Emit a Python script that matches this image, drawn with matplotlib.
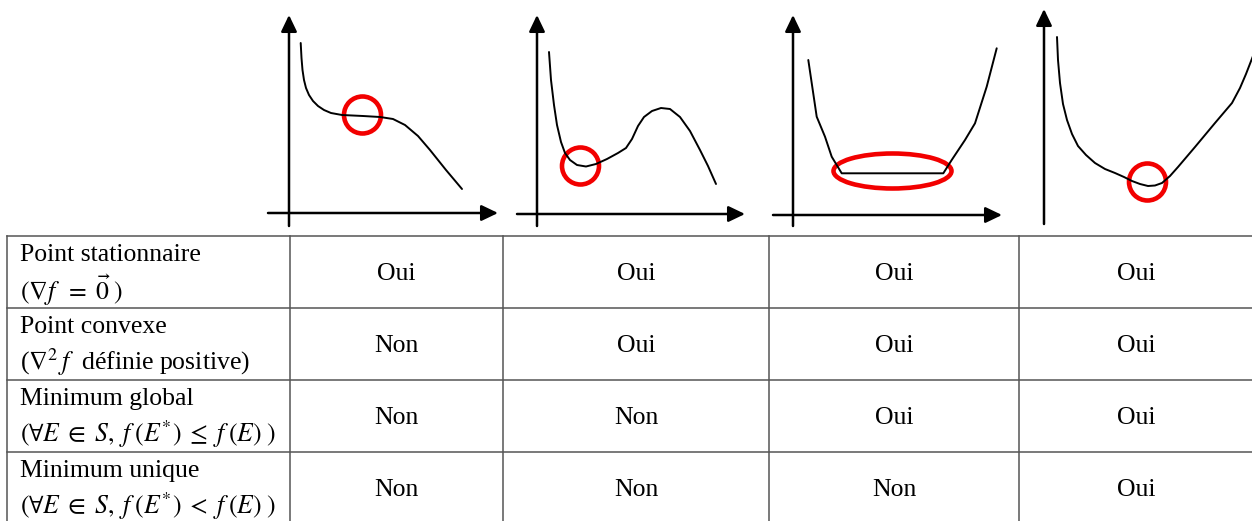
import numpy as np
import matplotlib
matplotlib.use('Agg')
import matplotlib.pyplot as plt
from matplotlib.patches import Ellipse
from matplotlib.patches import ArrowStyle

plt.rcParams['font.family'] = ['Liberation Serif', 'DejaVu Serif']
plt.rcParams['mathtext.fontset'] = 'stix'

W, H = 1252, 521

# %% podaci - skice funkcija (koordinate u pikselima slike)

# osa: (x y-ose, dno y-ose, vrh y-ose, y x-ose, levo x-ose, vrh x-ose)
axes_1 = (289, 226, 15, 213, 268, 498)
axes_2 = (537, 226, 15, 214, 517, 745)
axes_3 = (793, 226, 15, 215, 773, 1002)
axes_4 = (1044, 224, 9, 213, 1023, 1264)

curve_1_x = [300.7, 301.5, 302.5, 304, 306, 309, 313, 318, 324, 331, 342, 363, 380, 393, 405, 418, 430, 446, 462]
curve_1_y = [43, 58, 70, 80, 88, 95, 101, 106, 110, 113, 115, 116, 117, 119, 125, 136, 150, 170, 189]

curve_2_x = [549, 551, 554, 557, 561, 565, 570, 577, 586, 596, 607, 618, 626, 632, 638, 644,
             652, 661, 670, 680, 690, 700, 708, 716]
curve_2_y = [52, 80, 105, 125, 142, 153, 160, 165, 166.5, 164, 159, 153, 148, 139, 126, 117,
             111, 108, 109, 117, 131, 150, 166, 184]

curve_3_x = [808.3, 816.7, 825, 831.7, 841.7, 943.3, 951.7, 965, 975, 986.7, 996.7]
curve_3_y = [60, 116.7, 136.7, 156.7, 173.3, 173.3, 160, 140, 123.3, 86.7, 48.3]

curve_4_x = [1057, 1058, 1060, 1063, 1067, 1072, 1078, 1086, 1095, 1105, 1115, 1124, 1132,
             1140, 1148, 1155, 1162, 1170, 1178, 1195, 1215, 1232, 1240, 1246, 1253]
curve_4_y = [37, 60, 83, 104, 120, 134, 146, 155, 163, 169, 173, 177, 181, 184, 186, 185.5,
             183, 176, 167, 147, 123, 103, 88, 74, 56]

# oznake: (centar x, centar y, sirina, visina)
marks = [(362.5, 115, 37, 37),
         (580.5, 166, 37, 37),
         (892.5, 171, 118, 35),
         (1147.5, 182, 37, 37)]

# %% podaci - tabela

col_edges = [7, 290, 503, 769, 1019, 1254]
row_edges = [236, 308, 380, 452, 524]

row_titles = ['Point stationnaire', 'Point convexe', 'Minimum global', 'Minimum unique']
row_conditions = [r'$(\nabla f\;\;=\;\vec{0}\;)$',
                  r'($\nabla^2\,f$  définie positive)',
                  r'$(\forall E\;\in\;S,\;f\;(E^{*})\;\leq\;f\;(E)\;)$',
                  r'$(\forall E\;\in\;S,\;f\;(E^{*})\;<\;f\;(E)\;)$']

values = [['Oui', 'Oui', 'Oui', 'Oui'],
          ['Non', 'Oui', 'Oui', 'Oui'],
          ['Non', 'Non', 'Oui', 'Oui'],
          ['Non', 'Non', 'Non', 'Oui']]

# %% crtanje

fig = plt.figure(figsize=(W / 100, H / 100), dpi=100)
ax = fig.add_axes([0, 0, 1, 1])
ax.set_xlim(0, W)
ax.set_ylim(H, 0)
ax.axis('off')

head = ArrowStyle('-|>', head_length=1.0, head_width=0.48)

for (yx, yb, yt, xy, xl, xr) in [axes_1, axes_2, axes_3, axes_4]:
    ax.annotate('', xy=(yx, yt), xytext=(yx, yb),
                arrowprops=dict(arrowstyle=head, lw=1.8, color='black',
                                mutation_scale=10, shrinkA=0, shrinkB=0))
    ax.annotate('', xy=(xr, xy), xytext=(xl, xy),
                arrowprops=dict(arrowstyle=head, lw=1.8, color='black',
                                mutation_scale=10, shrinkA=0, shrinkB=0))

for cx, cy in [(curve_1_x, curve_1_y), (curve_2_x, curve_2_y),
               (curve_3_x, curve_3_y), (curve_4_x, curve_4_y)]:
    ax.plot(cx, cy, color='black', lw=1.4, solid_joinstyle='round', solid_capstyle='round')

for (mx, my, mw, mh) in marks:
    ax.add_patch(Ellipse((mx, my), mw, mh, fill=False, edgecolor='#f20000', lw=3.3))

# linije tabele
line_col = '#555555'
for y in row_edges:
    ax.plot([col_edges[0], col_edges[-1]], [y, y], color=line_col, lw=1.1)
for x in col_edges:
    ax.plot([x, x], [row_edges[0], row_edges[-1]], color=line_col, lw=1.1)

fs = 18.5
for i in range(len(row_titles)):
    top = row_edges[i]
    ax.text(20, top + 19, row_titles[i], fontsize=fs, ha='left', va='center')
    ax.text(20, top + 54, row_conditions[i], fontsize=fs, ha='left', va='center')
    yc = (row_edges[i] + row_edges[i + 1]) / 2 + 2
    for j in range(len(values[i])):
        xc = (col_edges[j + 1] + col_edges[j + 2]) / 2
        ax.text(xc, yc, values[i][j], fontsize=fs, ha='center', va='center')

fig.savefig('out.png', dpi=100)
